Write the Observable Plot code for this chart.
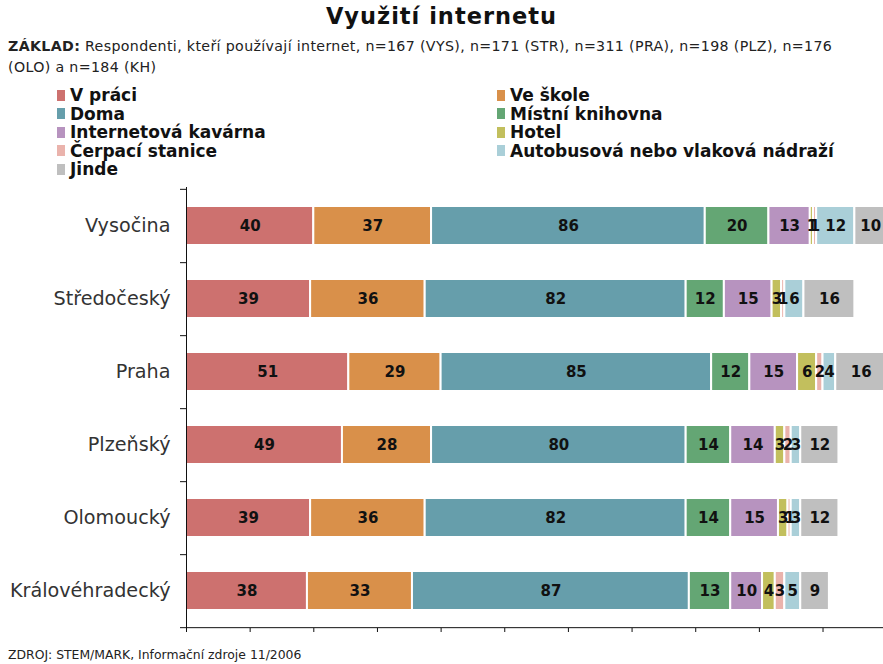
<!DOCTYPE html>
<html><head><meta charset="utf-8">
<script src="https://cdn.jsdelivr.net/npm/d3@7"></script>
<script src="https://cdn.jsdelivr.net/npm/@observablehq/plot@0.6"></script>
<style>
body{margin:0;background:#fff;font-family:"DejaVu Sans",sans-serif;}
#wrap{position:relative;width:883px;height:664px;overflow:hidden;background:#fff;}
#title{position:absolute;left:0;width:883px;top:3px;text-align:center;font-weight:bold;font-size:22.5px;letter-spacing:1px;color:#111;}
#sub{position:absolute;left:8px;top:36px;font-size:14.2px;letter-spacing:0.35px;line-height:21px;color:#222;white-space:nowrap;}
#legend{position:absolute;left:57px;top:86px;display:grid;grid-template-columns:440px 380px;}
.li{display:flex;align-items:center;height:18.5px;font-weight:bold;font-size:17px;color:#111;white-space:nowrap;}
.sw{width:8px;height:11px;margin-right:5px;flex:none;}
#chart{position:absolute;left:0;top:180px;}
#foot{position:absolute;left:8px;top:647px;font-size:12.4px;color:#222;}
</style></head>
<body><div id="wrap">
<div id="title">Využití internetu</div>
<div id="sub"><b>ZÁKLAD:</b> Respondenti, kteří používají internet, n=167 (VYS), n=171 (STR), n=311 (PRA), n=198 (PLZ), n=176<br>(OLO) a n=184 (KH)</div>
<div id="legend"></div>
<div id="chart"></div>
<div id="foot">ZDROJ: STEM/MARK, Informační zdroje 11/2006</div>
</div>
<script>
const regions = ["Vysočina","Středočeský","Praha","Plzeňský","Olomoucký","Královéhradecký"];
const categories = ["V práci","Ve škole","Doma","Místní knihovna","Internetová kavárna","Hotel","Čerpací stanice","Autobusová nebo vlaková nádraží","Jinde"];
const colors = ["#cd716f","#d9904a","#669eab","#64a674","#b793bf","#c2bf5d","#eab3ac","#aacfd8","#bfbfbf"];
// values per category, in region order
const vPraci      = [40,39,51,49,39,38];
const veSkole     = [37,36,29,28,36,33];
const doma        = [86,82,85,80,82,87];
const knihovna    = [20,12,12,14,14,13];
const kavarna     = [13,15,15,14,15,10];
const hotel       = [1,3,6,3,3,4];
const cerpaci     = [1,1,2,2,1,3];
const nadrazi     = [12,6,4,3,3,5];
const jinde       = [10,16,16,12,12,9];
const xTicks = [0,20,40,60,80,100,120,140,160,180,200];

const series = [vPraci,veSkole,doma,knihovna,kavarna,hotel,cerpaci,nadrazi,jinde];
const data = [];
regions.forEach((r,i)=>categories.forEach((c,j)=>data.push({region:r,cat:c,value:series[j][i]})));

// legend (row-major, two columns)
const leg = document.getElementById("legend");
categories.forEach((c,j)=>{
  const d = document.createElement("div"); d.className="li";
  d.innerHTML = `<span class="sw" style="background:${colors[j]}"></span>${c}`;
  leg.appendChild(d);
});

const step = 440/6;
const chart = Plot.plot({
  width: 883, height: 458,
  marginLeft: 186, marginRight: 0, marginTop: 7, marginBottom: 10,
  style: {fontFamily: "DejaVu Sans, sans-serif", background: "white"},
  x: {domain: [0, 219], label: null},
  y: {domain: regions, paddingInner: 0.47, paddingOuter: 0.235, label: null},
  color: {domain: categories, range: colors},
  marks: [
    Plot.barX(data, Plot.stackX({x: "value", y: "region", fill: "cat", stroke: "white", strokeWidth: 2, order: null})),
    Plot.text(data, Plot.stackX({x: "value", y: "region", z: "cat", text: "value", order: null, fontSize: 15, fontWeight: "bold", fill: "#111"})),
    Plot.ruleX([0], {stroke: "#111"}),
    Plot.ruleY([regions[regions.length-1]], {dy: step/2, stroke: "#111"}),
    Plot.axisY({tickSize: 0, tickPadding: 16, fontSize: 19.2, color: "#333", label: null}),
    Plot.axisY(regions, {tickSize: 6, dy: step/2, tickFormat: () => "", color: "#111", label: null}),
    Plot.axisY([regions[0]], {tickSize: 6, dy: -step/2, tickFormat: () => "", color: "#111", label: null}),
    Plot.axisX(xTicks, {tickSize: 4, tickFormat: () => "", color: "#111", anchor: "bottom", label: null})
  ]
});
document.getElementById("chart").appendChild(chart);
</script>
</body></html>
